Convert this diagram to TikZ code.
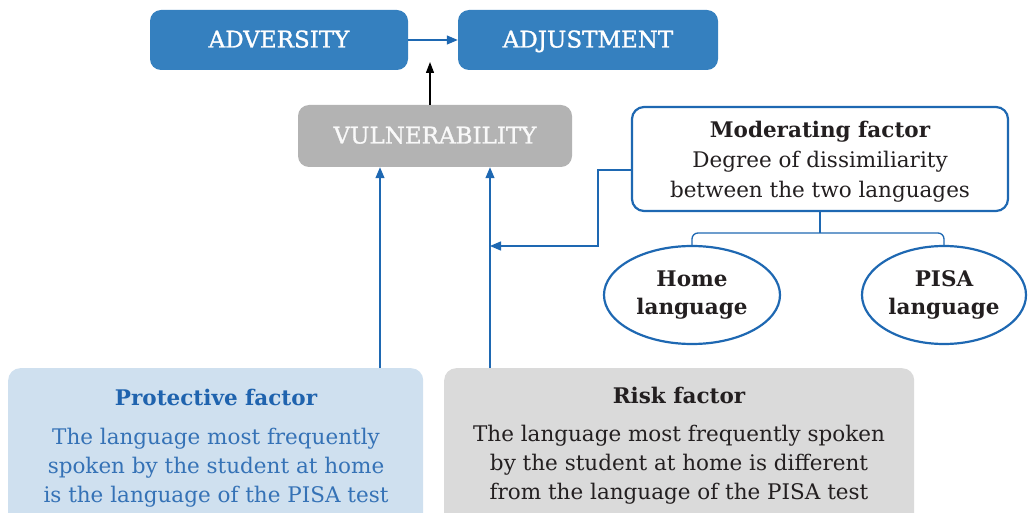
\documentclass[tikz,border=0pt]{standalone}
\usepackage{fontspec}
\setmainfont{DejaVu Serif}
\newfontfamily\capsfont[FakeBold=1.2]{DejaVu Serif}
\usetikzlibrary{arrows.meta,shapes.geometric,calc}
\definecolor{boxblue}{HTML}{3580BF}
\definecolor{lineblue}{HTML}{1E68B2}
\definecolor{vulgray}{HTML}{B3B3B3}
\definecolor{protfill}{HTML}{CFE0EF}
\definecolor{protText}{HTML}{1F63AE}
\definecolor{riskfill}{HTML}{DADADA}
\definecolor{darktext}{HTML}{231F20}
\tikzset{
  headbox/.style={rounded corners=11pt, minimum height=60pt, inner sep=0pt,
    font=\capsfont\fontsize{23}{27}\selectfont, text=white, text height=17pt, text depth=2pt},
  modbox/.style={draw=lineblue, line width=2.2pt, fill=white, rounded corners=12pt,
    minimum width=376pt, minimum height=104pt, inner sep=0pt},
  langell/.style={ellipse, draw=lineblue, line width=2.2pt, inner sep=0pt,
    minimum height=98pt, align=center, font=\bfseries\fontsize{21.5}{28}\selectfont, text=darktext},
  factorbox/.style={rounded corners=12pt, minimum height=160pt, inner sep=0pt},
  link/.style={draw=lineblue, line width=1.3pt},
  linkarrow/.style={link, -{Triangle[length=11pt,width=9pt]}},
  bodytext/.style={align=center, inner sep=0pt, font=\fontsize{21.5}{29}\selectfont},
  titletext/.style={inner sep=0pt, font=\bfseries\fontsize{21.5}{26}\selectfont},
}
\begin{document}
\begin{tikzpicture}[x=1pt,y=-1pt]
\useasboundingbox (0,0) rectangle (1028,513);
\begin{scope}
\clip (0,0) rectangle (1028,513);
% top row
\node[headbox, fill=boxblue, minimum width=258pt] (adv) at (279,40) {ADVERSITY};
\node[headbox, fill=boxblue, minimum width=260pt] (adj) at (588,40) {ADJUSTMENT};
\node[headbox, fill=vulgray, minimum width=274pt, minimum height=62pt, text=white!95!gray] (vul) at (435,136) {VULNERABILITY};
\draw[linkarrow] (adv.east) -- (adj.west);
\coordinate (mid) at (430,62);
\draw[line width=1.3pt, black, -{Triangle[length=11pt,width=8pt]}] (vul.north -| mid) -- (mid);

% moderating factor
\node[modbox] (mod) at (820,159) {};
\node[titletext, anchor=north, text=darktext] (modt) at (820,121) {Moderating factor};
\node[bodytext, anchor=north, text=darktext, font=\fontsize{21.5}{30}\selectfont] (modb) at (820,151)
  {Degree of dissimiliarity\\between the two languages};
\node[langell, minimum width=176pt] (home) at (692,295) {Home\\language};
\node[langell, minimum width=164pt] (pisa) at (944,295) {PISA\\language};
\coordinate (split) at (820,233);
\draw[link, rounded corners=6pt] (home.north) |- (split) -| (pisa.north);
\draw[link] (mod.south) -- (split);

% factor boxes
\node[factorbox, fill=protfill, minimum width=415pt, anchor=north west] (prot) at (8,368) {};
\node[factorbox, fill=riskfill, minimum width=470pt, anchor=north west] (risk) at (444,368) {};
\node[titletext, anchor=north, text=protText] (prott) at (216,389) {Protective factor};
\node[bodytext, anchor=north, text=protText!90!white] (protb) at (216,428)
  {The language most frequently\\spoken by the student at home\\is the language of the PISA test};
\node[titletext, anchor=north, text=darktext] (riskt) at (679,387) {Risk factor};
\node[bodytext, anchor=north, text=darktext] (riskb) at (679,425)
  {The language most frequently spoken\\by the student at home is different\\from the language of the PISA test};

% arrows into vulnerability
\coordinate (pa) at (380,0);
\coordinate (ra) at (490,0);
\draw[linkarrow] (prot.north -| pa) -- (vul.south -| pa);
\draw[linkarrow] (risk.north -| ra) -- (vul.south -| ra);
\coordinate (bend) at (598,170);
\coordinate (hit) at (490,246);
\draw[linkarrow] (mod.west |- bend) -- (bend) |- (hit);
\end{scope}
\end{tikzpicture}
\end{document}
